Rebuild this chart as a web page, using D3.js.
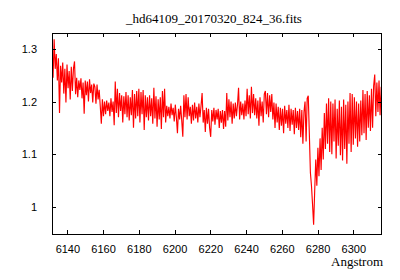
<!DOCTYPE html>
<html>
<head>
<meta charset="utf-8">
<script src="https://cdn.jsdelivr.net/npm/d3@7"></script>
<style>
	body { margin: 0; background: #fff; }
	text { fill: #000; }
</style>
</head>
<body>
<svg id="chart"></svg>
<script>
const width = 400;
const height = 280;

// spectrum header + flux
const title = "_hd64109_20170320_824_36.fits";
const xLabel = "Angstrom";
const crval1 = 6131.4;  // first wavelength
const cdelt1 = 0.6;     // step in Angstrom
const flux = [
	1.300, 1.245, 1.318, 1.262, 1.290, 1.240, 1.282, 1.178, 1.268, 1.236,
	1.274, 1.215, 1.262, 1.198, 1.270, 1.225, 1.258, 1.204, 1.266, 1.220,
	1.262, 1.276, 1.214, 1.245, 1.208, 1.240, 1.222, 1.244, 1.206, 1.236,
	1.177, 1.240, 1.212, 1.238, 1.200, 1.242, 1.216, 1.232, 1.198, 1.234,
	1.228, 1.196, 1.232, 1.204, 1.222, 1.192, 1.158, 1.204, 1.172, 1.200,
	1.176, 1.202, 1.182, 1.198, 1.172, 1.206, 1.180, 1.200, 1.155, 1.238,
	1.178, 1.224, 1.170, 1.216, 1.182, 1.212, 1.160, 1.210, 1.176, 1.218,
	1.170, 1.212, 1.164, 1.208, 1.174, 1.222, 1.150, 1.214, 1.168, 1.220,
	1.172, 1.224, 1.160, 1.218, 1.176, 1.222, 1.146, 1.212, 1.170, 1.208,
	1.164, 1.212, 1.172, 1.206, 1.158, 1.226, 1.168, 1.210, 1.152, 1.204,
	1.166, 1.208, 1.148, 1.220, 1.170, 1.224, 1.160, 1.192, 1.172, 1.190,
	1.168, 1.196, 1.174, 1.188, 1.162, 1.194, 1.170, 1.140, 1.186, 1.166,
	1.192, 1.164, 1.133, 1.212, 1.170, 1.214, 1.166, 1.208, 1.172, 1.190,
	1.158, 1.194, 1.164, 1.198, 1.168, 1.190, 1.160, 1.196, 1.170, 1.192,
	1.216, 1.160, 1.184, 1.142, 1.188, 1.158, 1.186, 1.150, 1.133, 1.184,
	1.162, 1.188, 1.156, 1.184, 1.166, 1.186, 1.150, 1.182, 1.160, 1.184,
	1.148, 1.182, 1.152, 1.216, 1.164, 1.204, 1.170, 1.200, 1.158, 1.196,
	1.168, 1.198, 1.172, 1.194, 1.226, 1.166, 1.200, 1.174, 1.196, 1.166,
	1.202, 1.172, 1.224, 1.176, 1.212, 1.168, 1.228, 1.178, 1.214, 1.174,
	1.206, 1.168, 1.202, 1.154, 1.208, 1.172, 1.200, 1.160, 1.214, 1.220,
	1.176, 1.216, 1.170, 1.212, 1.180, 1.214, 1.166, 1.198, 1.150, 1.196,
	1.160, 1.190, 1.146, 1.188, 1.154, 1.186, 1.140, 1.192, 1.158, 1.184,
	1.150, 1.194, 1.144, 1.186, 1.156, 1.184, 1.138, 1.188, 1.150, 1.182,
	1.146, 1.186, 1.132, 1.184, 1.120, 1.180, 1.200, 1.124, 1.206, 1.211,
	1.140, 1.065, 1.040, 1.005, 0.966, 1.030, 1.090, 1.040, 1.112, 1.058,
	1.130, 1.070, 1.150, 1.090, 1.178, 1.110, 1.196, 1.120, 1.206, 1.104,
	1.200, 1.100, 1.196, 1.124, 1.204, 1.092, 1.186, 1.116, 1.202, 1.098,
	1.190, 1.088, 1.204, 1.110, 1.194, 1.082, 1.200, 1.120, 1.216, 1.104,
	1.214, 1.118, 1.208, 1.130, 1.200, 1.114, 1.196, 1.124, 1.202, 1.136,
	1.222, 1.140, 1.214, 1.127, 1.220, 1.150, 1.212, 1.144, 1.224, 1.150,
	1.230, 1.251, 1.172, 1.236, 1.180, 1.240, 1.174, 1.228
];
const xTicks = [6140, 6160, 6180, 6200, 6220, 6240, 6260, 6280, 6300];
const yTicks = [1, 1.1, 1.2, 1.3];
const xDomain = [6131.4, 6315.9];
const yDomain = [0.948, 1.330];

const plot = { left: 52, right: 381.7, top: 33, bottom: 234.3 };
const tickLen = 4;

const points = flux.map((f, i) => ({ w: crval1 + i * cdelt1, f }));

const svg = d3.select("#chart")
	.attr("width", width)
	.attr("height", height)
	.attr("viewBox", [0, 0, width, height]);

const x = d3.scaleLinear().domain(xDomain).range([plot.left, plot.right]);
const y = d3.scaleLinear().domain(yDomain).range([plot.bottom, plot.top]);

svg.append("clipPath").attr("id", "clip")
	.append("rect")
	.attr("x", plot.left).attr("y", plot.top)
	.attr("width", plot.right - plot.left).attr("height", plot.bottom - plot.top);

// spectrum
svg.append("path")
	.datum(points)
	.attr("clip-path", "url(#clip)")
	.attr("fill", "none")
	.attr("stroke", "#ff0000")
	.attr("stroke-width", 1.15)
	.attr("d", d3.line().x(d => x(d.w)).y(d => y(d.f)));

// axes, gnuplot style: ticks inside, mirrored
const tickFont = "'Liberation Sans', Arial, sans-serif";
const fmtY = d => (d === 1 ? "1" : d3.format(".1f")(d));

const xBottom = svg.append("g")
	.attr("transform", `translate(0,${plot.bottom})`)
	.call(d3.axisBottom(x).tickValues(xTicks).tickSizeInner(-tickLen).tickSizeOuter(0).tickPadding(11).tickFormat(d3.format("d")));
const xTop = svg.append("g")
	.attr("transform", `translate(0,${plot.top})`)
	.call(d3.axisTop(x).tickValues(xTicks).tickSizeInner(-tickLen).tickSizeOuter(0).tickFormat(""));
const yLeft = svg.append("g")
	.attr("transform", `translate(${plot.left},0)`)
	.call(d3.axisLeft(y).tickValues(yTicks).tickSizeInner(-tickLen).tickSizeOuter(0).tickPadding(15).tickFormat(fmtY));
const yRight = svg.append("g")
	.attr("transform", `translate(${plot.right},0)`)
	.call(d3.axisRight(y).tickValues(yTicks).tickSizeInner(-tickLen).tickSizeOuter(0).tickFormat(""));

for (let g of [xBottom, xTop, yLeft, yRight]) {
	g.select(".domain").remove();
	g.selectAll("line").attr("stroke", "#000").attr("shape-rendering", "crispEdges");
	g.selectAll("text")
		.attr("font-family", tickFont)
		.attr("font-size", 11)
		.attr("fill", "#000");
}

// frame
svg.append("rect")
	.attr("x", plot.left).attr("y", plot.top)
	.attr("width", plot.right - plot.left).attr("height", plot.bottom - plot.top)
	.attr("fill", "none")
	.attr("stroke", "#000")
	.attr("shape-rendering", "crispEdges");

// title & label
svg.append("text")
	.attr("x", 214).attr("y", 23)
	.attr("text-anchor", "middle")
	.attr("font-family", "'Liberation Serif', 'Times New Roman', serif")
	.attr("font-size", 13)
	.text(title);

svg.append("text")
	.attr("x", 383).attr("y", 266)
	.attr("text-anchor", "end")
	.attr("font-family", "'Liberation Serif', 'Times New Roman', serif")
	.attr("font-size", 13)
	.text(xLabel);
</script>
</body>
</html>
